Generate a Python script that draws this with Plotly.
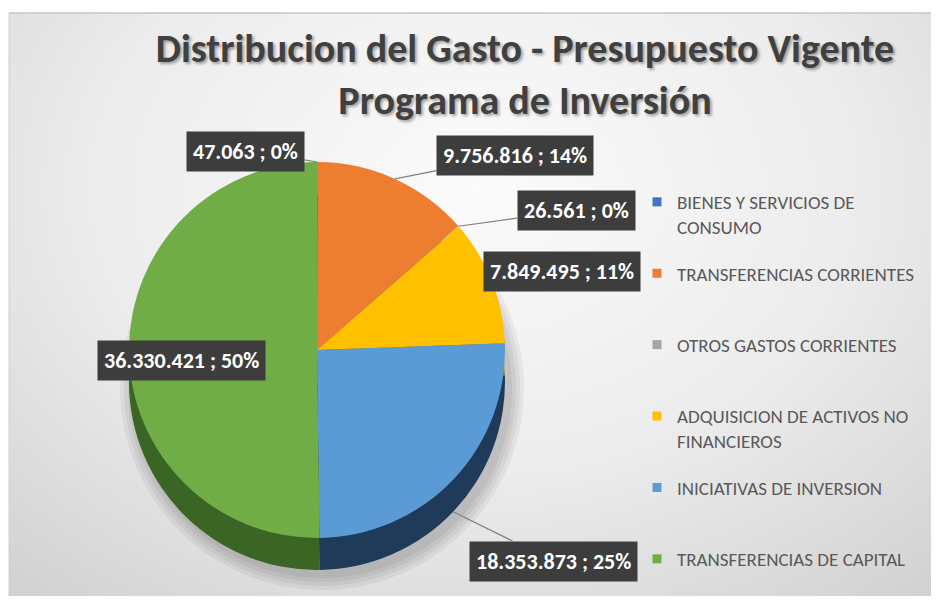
import math
import textwrap
import plotly.graph_objects as go

# ---------------- data ----------------
categories = [
    "BIENES Y SERVICIOS DE CONSUMO",
    "TRANSFERENCIAS CORRIENTES",
    "OTROS GASTOS CORRIENTES",
    "ADQUISICION DE ACTIVOS NO FINANCIEROS",
    "INICIATIVAS DE INVERSION",
    "TRANSFERENCIAS DE CAPITAL",
]
values = [47063, 9756816, 26561, 7849495, 18353873, 36330421]
top_colors = ["#4472C4", "#ED7D31", "#A5A5A5", "#FFC000", "#5B9BD5", "#70AD47"]
side_colors = ["#2B4A82", "#9E4F1C", "#6B6B6B", "#A67C00", "#1F3B59", "#3B6524"]
title_lines = ["Distribucion del Gasto - Presupuesto Vigente", "Programa de Inversión"]

# ---------------- layout constants (screen px) ----------------
OFF = 8                          # page margin around the figure
W, H = 939 - OFF, 604 - 2 * OFF  # figure size (no vertical scrolling)
CX, CY, R, DEPTH = 317, 350, 188, 32   # pie centre / radius (screen px)
FRAME_L, FRAME_T = 9, 13
FONT = "Carlito, Lato, Liberation Sans, sans-serif"


def px(X):
    return (X - OFF) / W


def py(Y):
    return 1 - (Y - OFF) / H


total = sum(values)


def fmt(v):
    return f"{v:,}".replace(",", ".")


# percentages rounded so they add up to 100 (largest remainder, as Excel does)
raw = [v / total * 100 for v in values]
pct = [int(x) for x in raw]
order = sorted(range(len(raw)), key=lambda i: raw[i] - int(raw[i]), reverse=True)
for i in order[: 100 - sum(pct)]:
    pct[i] += 1
label_text = [f"{fmt(v)} ; {p}%" for v, p in zip(values, pct)]


def dom(cx, cy, r):
    return dict(x=[px(cx - r), px(cx + r)], y=[py(cy + r), py(cy - r)])


fig = go.Figure()

# background (gradient panel)
fig.add_trace(go.Scatter(
    x=[-0.25, 1.25, 1.25, -0.25, -0.25], y=[-0.2, -0.2, 1.6, 1.6, -0.2],
    mode="lines", fill="toself", line=dict(width=0),
    fillgradient=dict(type="radial", colorscale=[[0, "#fbfbfb"], [0.55, "#ececec"], [1, "#d2d2d2"]]),
    hoverinfo="skip", showlegend=False,
))

# legend entries
for i, (name, col) in enumerate(zip(categories, top_colors)):
    lines = textwrap.wrap(name, 25)
    while len(lines) < 2:
        lines.append("&nbsp;")
    fig.add_trace(go.Scatter(
        x=[None], y=[None], mode="markers", name="<br>".join(lines),
        marker=dict(symbol="square", size=9, color=col),
        legendgroup=str(i), showlegend=True, hoverinfo="skip",
    ))

# soft shadow under the pie
for k in range(4):
    fig.add_trace(go.Pie(
        values=values, labels=categories, sort=False, direction="clockwise",
        marker=dict(colors=["rgba(0,0,0,0.05)"] * len(values), line=dict(width=0)),
        domain=dom(CX + 5, CY + DEPTH + 6, R + 2 + 4 * k), textinfo="none",
        hoverinfo="skip", showlegend=False,
    ))

# pie side (depth) and top face
fig.add_trace(go.Pie(
    values=values, labels=categories, sort=False, direction="clockwise",
    marker=dict(colors=side_colors, line=dict(width=0)),
    domain=dom(CX, CY + DEPTH, R), textinfo="none", hoverinfo="skip", showlegend=False,
))
fig.add_trace(go.Pie(
    values=values, labels=categories, sort=False, direction="clockwise",
    marker=dict(colors=top_colors, line=dict(width=0)),
    domain=dom(CX, CY, R), textinfo="none", hoverinfo="label+value+percent", showlegend=False,
))

# data labels
cum = 0
mid_angles = []
for v in values:
    mid_angles.append((cum + v / 2) / total * 2 * math.pi)
    cum += v

# (label centre in screen px, leader to top face / side / none), same order as categories
label_pos = [(245, 151, "top"), (515, 155, "top"), (576, 210, "top"),
             (562, 271, None), (553, 561, "side"), (97, 361, None)]

annotations = []
for txt, ang, (lx, ly, lead) in zip(label_text, mid_angles, label_pos):
    common = dict(text=txt, font=dict(family=FONT, size=22, color="white", weight="bold"),
                  bgcolor="#3d3d3d", borderpad=6, xref="paper", yref="paper")
    if lead is None:
        annotations.append(dict(x=px(lx), y=py(ly), showarrow=False, **common))
    else:
        cy = CY + (DEPTH if lead == "side" else 0)
        tx = CX + R * math.sin(ang)
        ty = cy - R * math.cos(ang)
        annotations.append(dict(x=px(tx), y=py(ty), ax=lx - tx, ay=ly - ty,
                                showarrow=True, arrowhead=0, arrowwidth=1.2,
                                arrowcolor="#7f7f7f", **common))

fig.update_layout(
    width=W, height=H, margin=dict(l=0, r=0, t=0, b=0, autoexpand=False),
    paper_bgcolor="white", plot_bgcolor="rgba(0,0,0,0)",
    xaxis=dict(visible=False, range=[0, 1], domain=[px(FRAME_L), 1], fixedrange=True),
    yaxis=dict(visible=False, range=[0, 1], domain=[0, py(FRAME_T)], fixedrange=True),
    title=dict(text="<br>".join(title_lines), x=px(525), xanchor="center",
               y=1 - 53.5 / H, yanchor="middle", yref="container",
               font=dict(family=FONT, size=40, color="#404040", weight="bold",
                         shadow="2px 2px 3px rgba(0,0,0,0.35)")),
    legend=dict(x=px(629 + OFF), y=1 - 175 / H, xanchor="left", yanchor="top", valign="top",
                font=dict(family=FONT, size=19, color="#595959"),
                tracegroupgap=19, bgcolor="rgba(0,0,0,0)", itemclick=False, itemdoubleclick=False),
    annotations=annotations,
    shapes=[
        dict(type="line", xref="paper", yref="paper", x0=px(FRAME_L), x1=1,
             y0=py(FRAME_T), y1=py(FRAME_T), line=dict(color="#c4c4c4", width=1.5)),
        dict(type="line", xref="paper", yref="paper", x0=px(FRAME_L), x1=px(FRAME_L),
             y0=0, y1=py(FRAME_T), line=dict(color="#d0d0d0", width=1)),
    ],
)

fig.write_html("out.html")
